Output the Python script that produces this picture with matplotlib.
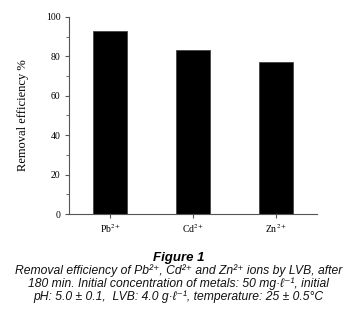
import matplotlib
matplotlib.use("Agg")
import matplotlib.pyplot as plt
from matplotlib.ticker import MultipleLocator

ions = [r"Pb$^{2+}$", r"Cd$^{2+}$", r"Zn$^{2+}$"]
removal = [93.0, 83.4, 77.0]

plt.rcParams['mathtext.fontset'] = 'stix'
serif = ['Liberation Serif', 'DejaVu Serif']
sans = ['Liberation Sans', 'DejaVu Sans']

fig = plt.figure(figsize=(3.57, 3.13), dpi=100)
ax = fig.add_axes([0.193, 0.316, 0.695, 0.630])

x = list(range(len(ions)))
ax.bar(x, removal, width=0.41, color='black', edgecolor='#444444', linewidth=0.6)

ax.set_xlim(-0.5, 2.5)
ax.set_ylim(0, 100)
ax.yaxis.set_major_locator(MultipleLocator(20))
ax.yaxis.set_minor_locator(MultipleLocator(10))
ax.set_xticks(x)
ax.set_xticklabels(ions, family=serif, fontsize=7)
for lab in ax.get_yticklabels():
    lab.set_family(serif)
    lab.set_fontsize(7)

for s in ['top', 'right']:
    ax.spines[s].set_visible(False)
for s in ['left', 'bottom']:
    ax.spines[s].set_color('#555555')
    ax.spines[s].set_linewidth(0.8)
ax.tick_params(which='major', length=3, width=0.8, color='#555555', pad=3)
ax.tick_params(which='minor', length=2, width=0.6, color='#555555')
ax.tick_params(axis='x', which='minor', bottom=False)

ax.set_ylabel("Removal efficiency %", family=serif, fontsize=9, labelpad=12)

fig.text(0.5, 1 - 258 / 313, "Figure 1", ha='center', va='center',
         family=sans, style='italic', weight='bold', fontsize=9.5)
caption = ["Removal efficiency of Pb²⁺, Cd²⁺ and Zn²⁺ ions by LVB, after",
           "180 min. Initial concentration of metals: 50 mg·ℓ⁻¹, initial",
           "pH: 5.0 ± 0.1,  LVB: 4.0 g·ℓ⁻¹, temperature: 25 ± 0.5°C"]
for i, line in enumerate(caption):
    fig.text(0.5, 1 - (271 + 13 * i) / 313, line, ha='center', va='center',
             family=sans, style='italic', fontsize=8.7, color='#111111')

fig.savefig("out.png", dpi=100)
